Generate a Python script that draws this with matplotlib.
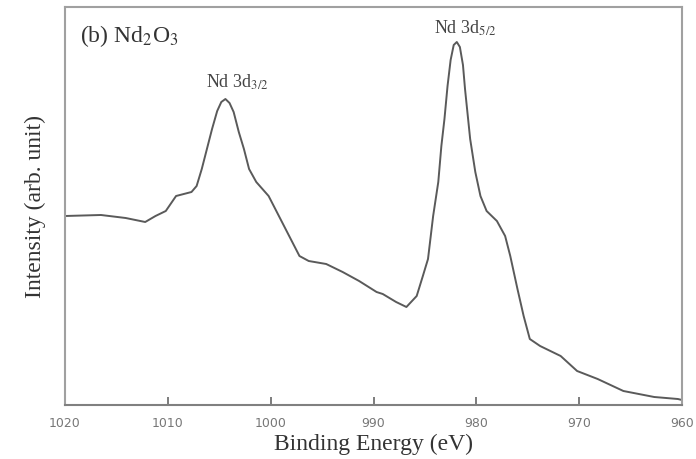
import matplotlib
matplotlib.use("Agg")
import matplotlib.pyplot as plt

energy = [1020.0, 1016.5, 1014.1, 1012.2, 1011.2, 1010.2, 1009.2, 1007.7, 1007.2, 1006.7,
          1006.2, 1005.7, 1005.2, 1004.8, 1004.4, 1004.0, 1003.6, 1003.1, 1002.6, 1002.1,
          1001.4, 1000.2, 999.2, 998.2, 997.2, 996.3, 994.6, 993.0, 991.4, 989.7,
          989.1, 987.8, 986.8, 985.8, 985.2, 984.7, 984.2, 983.7, 983.4, 983.1,
          982.8, 982.5, 982.2, 981.9, 981.6, 981.3, 981.1, 980.6, 980.1, 979.6,
          979.0, 978.0, 977.2, 976.7, 976.0, 975.4, 974.8, 973.8, 971.8, 970.2,
          968.2, 965.7, 962.7, 960.4, 960.0]
intensity = [189, 190, 187, 183, 189, 194, 209, 213, 219, 236,
             256, 276, 294, 303, 306, 302, 293, 273, 256, 236,
             223, 209, 189, 169, 149, 144, 141, 133, 124, 113,
             111, 103, 98, 109, 129, 146, 189, 223, 259, 286,
             319, 345, 360, 363, 358, 340, 316, 266, 233, 209,
             194, 184, 169, 149, 116, 89, 66, 59, 49, 34,
             26, 14, 8, 6, 5]
xticks = [1020, 1010, 1000, 990, 980, 970, 960]

plt.rcParams['mathtext.fontset'] = 'stix'
serif = ['Liberation Serif', 'DejaVu Serif']

fig = plt.figure(figsize=(6.96, 4.60), dpi=100)
ax = fig.add_axes([65/696, 54/460, 617/696, 398/460])
ax.plot(energy, intensity, color='#5a5a5a', lw=1.4)
ax.set_xlim(1020, 960)
ax.set_ylim(0, 398)
ax.set_xticks(xticks)
ax.set_xticklabels([str(t) for t in xticks], family='DejaVu Sans', fontsize=9, color='#777777')
ax.set_yticks([])
ax.tick_params(axis='x', direction='in', length=6, width=1.2, color='#666666', pad=8)
for s in ax.spines.values():
    s.set_color('#a0a0a0')
    s.set_linewidth(1.5)
ax.spines['bottom'].set_color('#808080')

ax.set_xlabel('Binding Energy (eV)', family=serif, fontsize=17, labelpad=3, color='#333333')
ax.set_ylabel('Intensity (arb. unit)', family=serif, fontsize=17, labelpad=14, color='#333333')

ax.text(1018.5, 370, r'(b) Nd$_2$O$_3$', family=serif, fontsize=17, va='center', ha='left', color='#333333')
ax.text(1003.2, 324, r'Nd 3d$_{3/2}$', family=serif, fontsize=13, va='center', ha='center', color='#444444')
ax.text(981.1, 378, r'Nd 3d$_{5/2}$', family=serif, fontsize=13, va='center', ha='center', color='#444444')

fig.savefig('out.png', dpi=100)
